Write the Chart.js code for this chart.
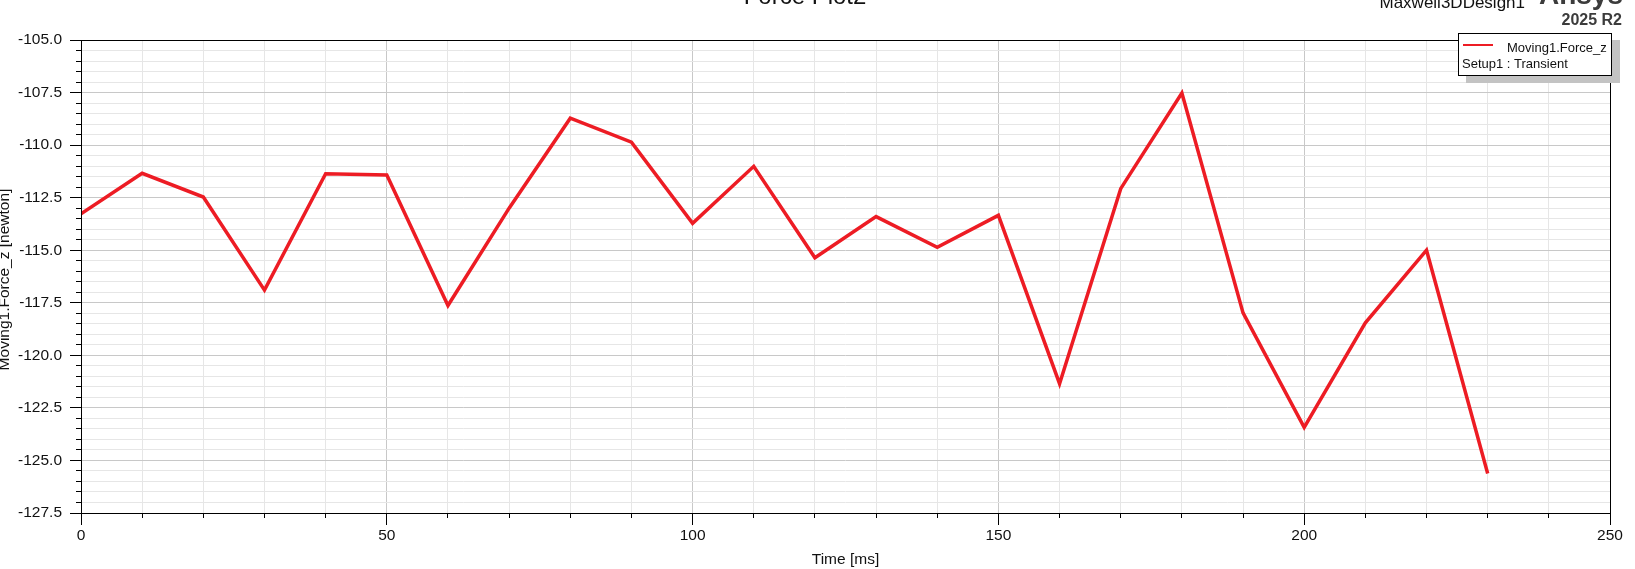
<!DOCTYPE html>
<html>
<head>
<meta charset="utf-8">
<title>Force Plot2</title>
<script src="https://cdn.jsdelivr.net/npm/chart.js@4.4.1/dist/chart.umd.min.js"></script>
<style>
  html, body { margin: 0; padding: 0; background: #fff; overflow: hidden; }
  #wrap { width: 1635px; height: 569px; position: relative; }
</style>
</head>
<body>
<div id="wrap"><canvas id="chart" width="1635" height="569"></canvas></div>
<script>
// values
const timeMs = [0, 10, 20, 30, 40, 50, 60, 70, 80, 90, 100, 110, 120, 130, 140, 150, 160, 170, 180, 190, 200, 210, 220, 230];
const forceZ = [-113.27, -111.34, -112.47, -116.9, -111.36, -111.42, -117.63, -113.0, -108.72, -109.86, -113.72, -111.01,
  -115.36, -113.4, -114.86, -113.34, -121.35, -112.07, -107.52, -117.98, -123.43, -118.45, -115.0, -125.62];
const xTickLabels = [0, 50, 100, 150, 200, 250];
const yTickLabels = [-105.0, -107.5, -110.0, -112.5, -115.0, -117.5, -120.0, -122.5, -125.0, -127.5];

const FONT = "'Liberation Sans', Arial, sans-serif";
const RED = 'rgb(237,28,36)';

const isLabelled = (list, v) => list.some(l => Math.abs(l - v) < 1e-6);

// frame, tick marks, titles and the legend box, drawn like the Ansys plot
const decor = {
  id: 'decor',
  afterDraw(chart) {
    const { ctx, chartArea: a, scales: { x, y } } = chart;
    const al = p => Math.round(p - 0.5) + 0.5;
    ctx.save();
    ctx.strokeStyle = '#000';
    ctx.lineWidth = 1;
    ctx.beginPath();
    y.ticks.forEach(t => {
      const py = al(y.getPixelForValue(t.value));
      const len = isLabelled(yTickLabels, t.value) ? 11 : 5;
      ctx.moveTo(a.left - len, py);
      ctx.lineTo(a.left, py);
    });
    x.ticks.forEach(t => {
      const px = al(x.getPixelForValue(t.value));
      const len = isLabelled(xTickLabels, t.value) ? 12 : 5;
      ctx.moveTo(px, a.bottom);
      ctx.lineTo(px, a.bottom + len);
    });
    ctx.stroke();
    ctx.strokeRect(al(a.left), al(a.top), Math.round(a.right - a.left), Math.round(a.bottom - a.top));

    // axis titles
    ctx.fillStyle = '#111';
    ctx.font = '15.5px ' + FONT;
    ctx.textAlign = 'center';
    ctx.textBaseline = 'alphabetic';
    ctx.fillText('Time [ms]', (a.left + a.right) / 2, 564);
    ctx.save();
    ctx.translate(9, (a.top + a.bottom) / 2 + 3);
    ctx.rotate(-Math.PI / 2);
    ctx.fillText('Moving1.Force_z [newton]', 0, 0);
    ctx.restore();

    // plot title, cut by the top edge
    ctx.font = '24px ' + FONT;
    ctx.fillText('Force Plot2', 805, 4);

    // product labels
    ctx.textAlign = 'right';
    ctx.font = '17px ' + FONT;
    ctx.fillText('Maxwell3DDesign1', 1525, 8);
    ctx.fillStyle = '#3c3c3c';
    ctx.font = 'bold 28px ' + FONT;
    ctx.fillText('Ansys', 1623, 4);
    ctx.font = 'bold 16px ' + FONT;
    ctx.fillText('2025 R2', 1622, 25);

    // legend with shadow
    ctx.fillStyle = '#c3c3c3';
    ctx.fillRect(1466, 40, 154, 43);
    ctx.fillStyle = '#fff';
    ctx.fillRect(1458, 33, 154, 43);
    ctx.strokeStyle = '#000';
    ctx.strokeRect(1458.5, 33.5, 153, 42);
    ctx.strokeStyle = RED;
    ctx.lineWidth = 2;
    ctx.beginPath();
    ctx.moveTo(1463, 45);
    ctx.lineTo(1493, 45);
    ctx.stroke();
    ctx.fillStyle = '#111';
    ctx.font = '13px ' + FONT;
    ctx.textAlign = 'left';
    ctx.textBaseline = 'middle';
    ctx.fillText('Moving1.Force_z', 1507, 48);
    ctx.fillText('Setup1 : Transient', 1462, 64);
    ctx.restore();
  }
};

const ctx = document.getElementById('chart').getContext('2d');
new Chart(ctx, {
  type: 'line',
  data: {
    datasets: [{
      label: 'Moving1.Force_z',
      data: timeMs.map((t, i) => ({ x: t, y: forceZ[i] })),
      borderColor: RED,
      backgroundColor: RED,
      borderWidth: 3.5,
      pointRadius: 0,
      tension: 0,
      fill: false
    }]
  },
  options: {
    responsive: false,
    animation: false,
    layout: { padding: { top: 40, right: 25, bottom: 0, left: 0 } },
    plugins: {
      legend: { display: false },
      title: { display: false },
      tooltip: { enabled: false }
    },
    scales: {
      x: {
        type: 'linear',
        min: 0,
        max: 250,
        border: { display: false },
        grid: {
          drawTicks: false,
          color: c => isLabelled(xTickLabels, c.tick.value) ? '#c8c8c8' : '#e6e6e6'
        },
        ticks: {
          stepSize: 10,
          maxTicksLimit: 100,
          autoSkip: false,
          maxRotation: 0,
          padding: 13,
          color: '#111',
          font: { family: FONT, size: 15.5 },
          callback: v => isLabelled(xTickLabels, v) ? String(v) : ''
        },
        afterFit(s) { s.height = 56; s.paddingLeft = 0; s.paddingRight = 0; }
      },
      y: {
        type: 'linear',
        min: -127.5,
        max: -105,
        border: { display: false },
        grid: {
          drawTicks: false,
          color: c => isLabelled(yTickLabels, c.tick.value) ? '#c8c8c8' : '#e6e6e6'
        },
        ticks: {
          stepSize: 0.5,
          maxTicksLimit: 100,
          autoSkip: false,
          padding: 19,
          color: '#111',
          font: { family: FONT, size: 15.5 },
          callback: v => isLabelled(yTickLabels, v) ? v.toFixed(1) : ''
        },
        afterFit(s) { s.width = 81; s.paddingTop = 0; s.paddingBottom = 0; }
      }
    }
  },
  plugins: [decor]
});
</script>
</body>
</html>
